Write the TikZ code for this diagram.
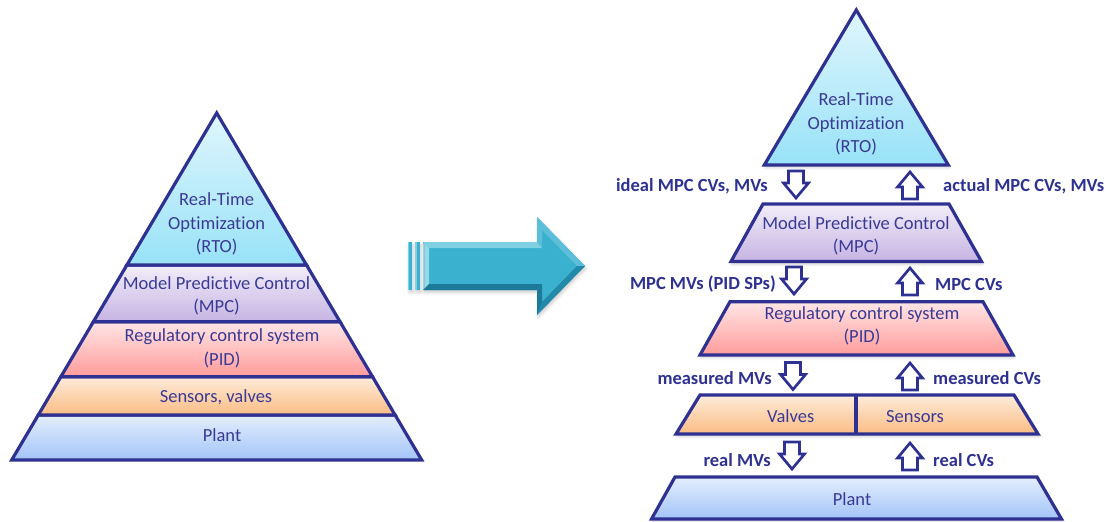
\documentclass[tikz,border=0pt]{standalone}
\usepackage{fontspec}
\setmainfont[Ligatures=NoCommon]{Carlito}
\usetikzlibrary{shadows.blur}

\definecolor{edge}{RGB}{46,49,146}
\definecolor{ink}{RGB}{58,58,150}
\definecolor{rtoT}{RGB}{224,246,253}
\definecolor{rtoB}{RGB}{152,226,248}
\definecolor{mpcT}{RGB}{242,237,249}
\definecolor{mpcB}{RGB}{198,180,227}
\definecolor{pidT}{RGB}{255,230,230}
\definecolor{pidB}{RGB}{255,155,155}
\definecolor{senT}{RGB}{253,236,218}
\definecolor{senB}{RGB}{250,188,132}
\definecolor{plaT}{RGB}{228,238,253}
\definecolor{plaB}{RGB}{162,196,248}
\definecolor{tealface}{RGB}{58,178,207}
\definecolor{teallight}{RGB}{128,208,228}
\definecolor{tealpale}{RGB}{150,217,232}
\definecolor{tealmid}{RGB}{92,190,216}
\definecolor{tealdark}{RGB}{34,138,168}
\definecolor{tealdeep}{RGB}{28,122,152}

\tikzset{
  layer/.style={draw=edge, line width=3.2pt, line join=miter},
  softshadow/.style={blur shadow={shadow xshift=1pt, shadow yshift=-2.5pt,
      shadow blur radius=3pt, shadow opacity=20}},
  txt/.style={text=ink, font=\fontsize{18.5}{23.5}\selectfont, align=center, inner sep=0pt},
  lbl/.style={text=edge, font=\fontsize{18.5}{23.5}\selectfont\bfseries, inner sep=0pt},
  hollow/.style={draw=edge, fill=white, line width=2.7pt, line join=miter},
  downarr/.pic={\path[hollow] (-7.5,-14) -- (7.5,-14) -- (7.5,-2) -- (12.5,-2)
      -- (0,13) -- (-12.5,-2) -- (-7.5,-2) -- cycle;},
  uparr/.pic={\path[hollow] (-7.5,14) -- (7.5,14) -- (7.5,2) -- (12.5,2)
      -- (0,-13) -- (-12.5,2) -- (-7.5,2) -- cycle;},
}

\begin{document}
\begin{tikzpicture}[x=1pt,y=-1pt]
\useasboundingbox (0,0) rectangle (1117,522);

% ---------------- left pyramid ----------------
\path[layer, top color=plaT, bottom color=plaB]
  (38.3,415) -- (395.1,415) -- (421.7,460) -- (11.7,460) -- cycle;
\path[layer, top color=senT, bottom color=senB]
  (60.9,376.7) -- (372.5,376.7) -- (395.1,415) -- (38.3,415) -- cycle;
\path[layer, top color=pidT, bottom color=pidB]
  (93.4,321.7) -- (340,321.7) -- (372.5,376.7) -- (60.9,376.7) -- cycle;
\path[layer, top color=mpcT, bottom color=mpcB]
  (126.9,265) -- (306.5,265) -- (340,321.7) -- (93.4,321.7) -- cycle;
\path[layer, top color=rtoT, bottom color=rtoB]
  (216.7,113) -- (306.5,265) -- (126.9,265) -- cycle;

\node[txt] (lrto) at (216.7,224) {Real-Time\\Optimization\\(RTO)};
\node[txt] (lmpc) at (216.5,296) {Model Predictive Control\\(MPC)};
\node[txt] (lpid) at (222,348.5) {Regulatory control system\\(PID)};
\node[txt] (lsen) at (216,397) {Sensors, valves};
\node[txt] (lpla) at (222,435) {Plant};

% ---------------- transition arrow ----------------
\path[fill=tealface, softshadow]
  (423,242) -- (537,242) -- (537,217) -- (585,266) -- (537,315) -- (537,290) -- (423,290) -- cycle;
% bevel facets
\fill[tealpale] (423,242) -- (429,248) -- (429,284) -- (423,290) -- cycle;
\fill[teallight] (423,242) -- (537,242) -- (542,248) -- (429,248) -- cycle;
\fill[tealmid] (537,242) -- (537,217) -- (542,230) -- (542,248) -- cycle;
\fill[tealmid] (537,217) -- (585,266) -- (577,266) -- (542,230) -- cycle;
\fill[tealdark] (585,266) -- (537,315) -- (542,302) -- (577,266) -- cycle;
\fill[tealdeep] (537,315) -- (537,290) -- (542,284) -- (542,302) -- cycle;
\fill[tealdeep] (537,290) -- (423,290) -- (429,284) -- (542,284) -- cycle;
% striped tail
\path[fill=tealface, softshadow] (408,242) rectangle (412,290);
\path[fill=tealface, softshadow] (415,242) rectangle (420,290);
\fill[teallight] (408,242) rectangle (409.3,290);
\fill[teallight] (415,242) rectangle (416.5,290);

% ---------------- right pyramid ----------------
\path[layer, softshadow, top color=rtoT, bottom color=rtoB]
  (856.3,10) -- (948.3,165) -- (764.3,165) -- cycle;
\path[layer, softshadow, top color=mpcT, bottom color=mpcB]
  (763,204) -- (949,204) -- (981.5,261.5) -- (731,261.5) -- cycle;
\path[layer, softshadow, top color=pidT, bottom color=pidB]
  (730,301.7) -- (983,301.7) -- (1013,355) -- (700,355) -- cycle;
\path[layer, softshadow, top color=senT, bottom color=senB]
  (700,395) -- (1014,395) -- (1038,434) -- (676,434) -- cycle;
\draw[layer] (856,395) -- (856,434);
\path[layer, softshadow, top color=plaT, bottom color=plaB]
  (675,477) -- (1037,477) -- (1061.5,519) -- (651.5,519) -- cycle;

\node[txt] (rrto) at (856,124) {Real-Time\\Optimization\\(RTO)};
\node[txt] (rmpc) at (856,236) {Model Predictive Control\\(MPC)};
\node[txt] (rpid) at (862,326) {Regulatory control system\\(PID)};
\node[txt] (rval) at (790.7,416.5) {Valves};
\node[txt] (rsen) at (915,416.5) {Sensors};
\node[txt] (rpla) at (852,499) {Plant};

% ---------------- signal arrows and labels ----------------
\pic at (796,185) {downarr};
\pic at (910,185) {uparr};
\node[lbl, anchor=east] (l1) at (768,186) {ideal MPC CVs, MVs};
\node[lbl, anchor=west] (r1) at (943,186) {actual MPC CVs, MVs};

\pic at (794,281) {downarr};
\pic at (910,281) {uparr};
\node[lbl, anchor=east] (l2) at (776,284) {MPC MVs (PID SPs)};
\node[lbl, anchor=west] (r2) at (935,284) {MPC CVs};

\pic at (793,376.5) {downarr};
\pic at (910,376) {uparr};
\node[lbl, anchor=east] (l3) at (772,378) {measured MVs};
\node[lbl, anchor=west] (r3) at (933,378) {measured CVs};

\pic at (792,456) {downarr};
\pic at (910,456) {uparr};
\node[lbl, anchor=east] (l4) at (771,460) {real MVs};
\node[lbl, anchor=west] (r4) at (933,460) {real CVs};
\end{tikzpicture}
\end{document}
